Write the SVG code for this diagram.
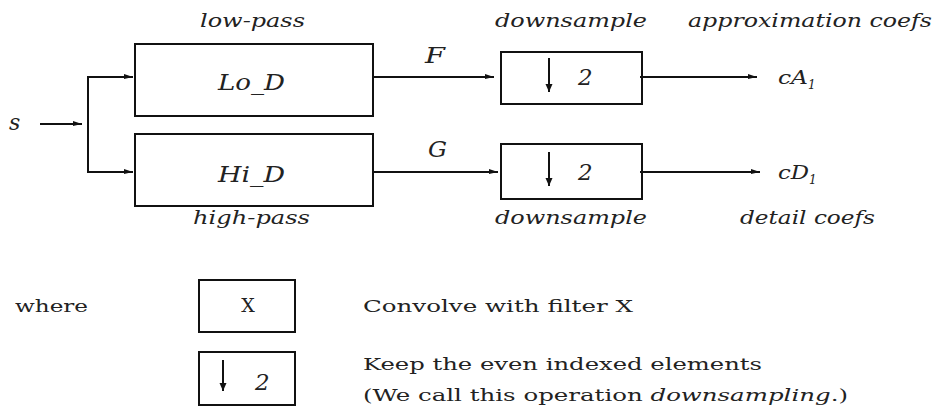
<svg xmlns="http://www.w3.org/2000/svg" width="936" height="410" viewBox="0 0 936 410">
<style>
.box{fill:none;stroke:#111;stroke-width:2}
.ln{fill:none;stroke:#111;stroke-width:2}
text{font-family:"DejaVu Serif","Liberation Serif",serif;fill:#222;font-size:19px}
.it{font-style:italic}
.big{font-size:22px}
.num{font-size:23px;font-style:italic}
.lg{font-size:17px}
.sub{font-size:12px;font-style:italic}
</style>
<defs>
<marker id="ah" markerWidth="10" markerHeight="8" refX="9" refY="4" orient="auto" markerUnits="userSpaceOnUse">
<path d="M0,1 L9,4 L0,6 Z" fill="#111"/>
</marker>
<marker id="dn" markerWidth="10" markerHeight="8" refX="8" refY="4" orient="auto" markerUnits="userSpaceOnUse">
<path d="M0,0.5 L8,4 L0,7.5 Z" fill="#111"/>
</marker>
</defs>
<rect width="936" height="410" fill="#fff"/>
<g id="connectors">
<line class="ln" x1="40" y1="124" x2="82" y2="124" marker-end="url(#ah)"/>
<line class="ln" x1="88" y1="76" x2="88" y2="173"/>
<line class="ln" x1="87" y1="77" x2="133" y2="77" marker-end="url(#ah)"/>
<line class="ln" x1="87" y1="172" x2="133" y2="172" marker-end="url(#ah)"/>
<line class="ln" x1="373" y1="77" x2="494" y2="77" marker-end="url(#ah)"/>
<line class="ln" x1="373" y1="172" x2="498" y2="172" marker-end="url(#ah)"/>
<line class="ln" x1="640" y1="77" x2="757" y2="77" marker-end="url(#ah)"/>
<line class="ln" x1="640" y1="172" x2="760" y2="172" marker-end="url(#ah)"/>
</g>
<g id="input"><text class="it big" x="9" y="130">s</text></g>
<g id="lowpass">
<rect class="box" x="135" y="44" width="238" height="72"/>
<text class="it big" x="218" y="90" textLength="67" lengthAdjust="spacingAndGlyphs">Lo_D</text>
<text class="it" x="200" y="27" textLength="105" lengthAdjust="spacingAndGlyphs">low-pass</text>
</g>
<g id="highpass">
<rect class="box" x="135" y="134" width="238" height="72"/>
<text class="it big" x="218" y="182" textLength="67" lengthAdjust="spacingAndGlyphs">Hi_D</text>
<text class="it" x="193" y="224" textLength="117" lengthAdjust="spacingAndGlyphs">high-pass</text>
</g>
<g id="labelF"><text class="it big" x="425" y="63" textLength="20" lengthAdjust="spacingAndGlyphs">F</text></g>
<g id="labelG"><text class="it big" x="428" y="157" textLength="19" lengthAdjust="spacingAndGlyphs">G</text></g>
<g id="down1">
<rect class="box" x="501" y="52" width="141" height="52"/>
<line class="ln" x1="549" y1="58" x2="549" y2="92" marker-end="url(#dn)"/>
<text class="num" x="578" y="85">2</text>
<text class="it" x="495" y="27" textLength="152" lengthAdjust="spacingAndGlyphs">downsample</text>
</g>
<g id="down2">
<rect class="box" x="501" y="144" width="141" height="55"/>
<line class="ln" x1="549" y1="152" x2="549" y2="186" marker-end="url(#dn)"/>
<text class="num" x="578" y="180">2</text>
<text class="it" x="495" y="224" textLength="152" lengthAdjust="spacingAndGlyphs">downsample</text>
</g>
<g id="cA">
<text class="it" x="778" y="84"><tspan textLength="30" lengthAdjust="spacingAndGlyphs">cA</tspan><tspan class="sub" dy="5">1</tspan></text>
<text class="it" x="688" y="27" textLength="244" lengthAdjust="spacingAndGlyphs">approximation coefs</text>
</g>
<g id="cD">
<text class="it" x="778" y="179"><tspan textLength="31" lengthAdjust="spacingAndGlyphs">cD</tspan><tspan class="sub" dy="5">1</tspan></text>
<text class="it" x="740" y="224" textLength="135" lengthAdjust="spacingAndGlyphs">detail coefs</text>
</g>
<g id="legend">
<text class="lg" x="15" y="312" textLength="73" lengthAdjust="spacingAndGlyphs">where</text>
<rect class="box" x="199" y="280" width="96" height="52"/>
<text x="248" y="312" text-anchor="middle" font-size="20px">X</text>
<rect class="box" x="199" y="352" width="96" height="53"/>
<line class="ln" x1="223" y1="360" x2="223" y2="391" marker-end="url(#dn)"/>
<text class="num" x="255" y="390">2</text>
<text class="lg" x="363" y="312" textLength="270" lengthAdjust="spacingAndGlyphs">Convolve with filter X</text>
<text class="lg" x="363" y="370" textLength="399" lengthAdjust="spacingAndGlyphs">Keep the even indexed elements</text>
<text class="lg" x="363" y="401" textLength="485" lengthAdjust="spacingAndGlyphs">(We call this operation <tspan class="it">downsampling</tspan>.)</text>
</g>
</svg>
